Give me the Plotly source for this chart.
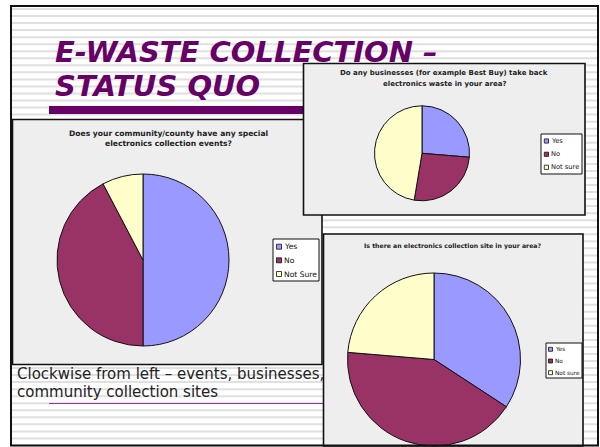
import plotly.graph_objects as go

W, H = 600, 447

# ---- data ----
events_labels = ["Yes", "No", "Not Sure"]
events_values = [13, 11, 2]
events_title = ["Does your community/county have any special", "electronics collection events?"]

biz_labels = ["Yes", "No", "Not sure"]
biz_values = [5, 5, 9]
biz_title = ["Do any businesses (for example Best Buy) take back", "electronics waste in your area?"]

site_labels = ["Yes", "No", "Not sure"]
site_values = [13, 16, 9]
site_title = ["Is there an electronics collection site in your area?"]

slice_colors = ["#9999FF", "#993366", "#FFFFCC"]

slide_title = ["E-WASTE COLLECTION \u2013", "STATUS QUO"]
caption = ["Clockwise from left \u2013 events, businesses,", "community collection sites"]


def px(x):
    return x / W


def py(y):
    return 1 - y / H


shapes = []
annotations = []

# background stripes (slide decoration)
y = 9.0
while y < 446:
    shapes.append(dict(type="line", xref="paper", yref="paper", x0=px(11), x1=px(598),
                       y0=py(y), y1=py(y), line=dict(color="#e0e0e0", width=2), layer="below"))
    y += 7.04

# title bar
shapes.append(dict(type="rect", xref="paper", yref="paper", x0=px(49), x1=px(304), y0=py(114), y1=py(106),
                   fillcolor="#660066", line=dict(width=0), layer="below"))
# thin purple line under caption
shapes.append(dict(type="line", xref="paper", yref="paper", x0=px(49), x1=px(323), y0=py(403.5), y1=py(403.5),
                   line=dict(color="#993399", width=1), layer="below"))


def box(x0, y0, x1, y1):
    shapes.append(dict(type="rect", xref="paper", yref="paper", x0=px(x0), x1=px(x1), y0=py(y1), y1=py(y0),
                       fillcolor="#EEEEEE", line=dict(color="#111111", width=1.6), layer="below"))


box(12.5, 119.5, 322, 364.5)
box(303.5, 63.5, 585, 215)
box(323.5, 234, 583, 446)


def legend(x0, y0, x1, y1, rows, sq_x, sq, text_x, labels, fsize):
    shapes.append(dict(type="rect", xref="paper", yref="paper", x0=px(x0), x1=px(x1), y0=py(y1), y1=py(y0),
                       fillcolor="white", line=dict(color="#111111", width=1), layer="above"))
    for lab, col, ry in zip(labels, slice_colors, rows):
        shapes.append(dict(type="rect", xref="paper", yref="paper", x0=px(sq_x), x1=px(sq_x + sq),
                           y0=py(ry + sq / 2), y1=py(ry - sq / 2), fillcolor=col,
                           line=dict(color="#111111", width=0.8), layer="above"))
        annotations.append(dict(x=px(text_x), y=py(ry), xref="paper", yref="paper", text=lab,
                                showarrow=False, xanchor="left", yanchor="middle",
                                font=dict(family="DejaVu Sans", size=fsize, color="#111111")))


legend(273, 239, 319, 281, [246.7, 260.3, 274], 276.5, 5, 282, events_labels, 7.6)
legend(541, 134, 582, 174, [141, 154.3, 167.3], 544.3, 4.2, 549, biz_labels, 6.7)
legend(546, 343, 582, 378, [349.3, 361, 372.7], 548.5, 4, 552.5, site_labels, 5.8)


def title_lines(lines, cx, ys, fsize):
    for t, yy in zip(lines, ys):
        annotations.append(dict(x=px(cx), y=py(yy), xref="paper", yref="paper", text="<b>%s</b>" % t,
                                showarrow=False, xanchor="center", yanchor="middle",
                                font=dict(family="DejaVu Sans", size=fsize, color="#222222")))


title_lines(events_title, 168, [133, 143.5], 7.6)
title_lines(biz_title, 444, [72.5, 84], 7.0)
title_lines(site_title, 453, [245.7], 6.2)

# slide title
for t, yy in zip(slide_title, [52, 85.5]):
    annotations.append(dict(x=px(53), y=py(yy), xref="paper", yref="paper", text="<b><i>%s</i></b>" % t,
                            showarrow=False, xanchor="left", yanchor="middle",
                            font=dict(family="DejaVu Sans", size=29, color="#660066")))

# caption
for t, yy in zip(caption, [373.5, 391.5]):
    annotations.append(dict(x=px(15), y=py(yy), xref="paper", yref="paper", text=t,
                            showarrow=False, xanchor="left", yanchor="middle",
                            font=dict(family="DejaVu Sans", size=15, color="#222222")))

# slide border
shapes.append(dict(type="rect", xref="paper", yref="paper", x0=px(11), x1=px(598), y0=py(445.5), y1=py(6),
                   fillcolor="rgba(0,0,0,0)", line=dict(color="#111111", width=2), layer="above"))


def pie(labels, values, cx, cy, r):
    return go.Pie(labels=labels, values=values, sort=False, direction="clockwise", rotation=0,
                  textinfo="none", hoverinfo="label+value+percent", showlegend=False,
                  marker=dict(colors=slice_colors, line=dict(color="#111111", width=1)),
                  domain=dict(x=[px(cx - r), px(cx + r)], y=[py(cy + r), py(cy - r)]))


fig = go.Figure([
    pie(events_labels, events_values, 143, 260, 86),
    pie(biz_labels, biz_values, 422, 153.3, 47.5),
    pie(site_labels, site_values, 434, 359.5, 86.5),
])

fig.update_layout(width=W, height=H, margin=dict(l=0, r=0, t=0, b=0),
                  paper_bgcolor="white", plot_bgcolor="white",
                  shapes=shapes, annotations=annotations, showlegend=False)

fig.write_html("out.html", config={"displayModeBar": False},
               post_script="document.body.style.margin='0';document.body.style.overflow='hidden';")
